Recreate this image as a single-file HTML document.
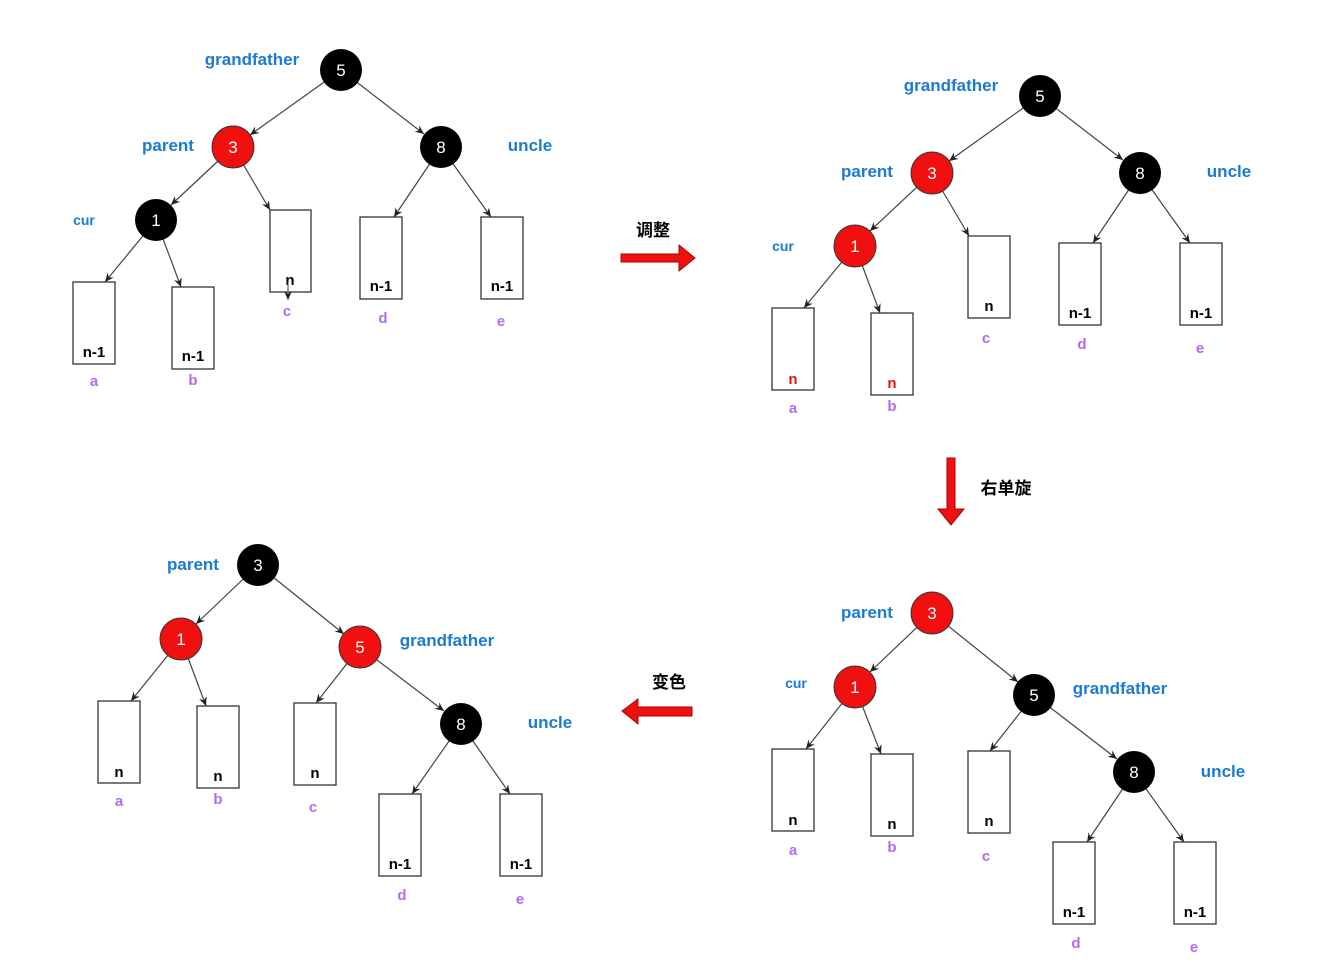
<!DOCTYPE html>
<html><head><meta charset="utf-8"><style>
html,body{margin:0;padding:0;background:#fff;}
svg{display:block;}
.lbl{font-family:"Liberation Sans",sans-serif;font-size:17px;fill:#1a7bd0;font-weight:bold;text-anchor:middle;}
.cur{font-family:"Liberation Sans",sans-serif;font-size:14px;fill:#1a7bd0;font-weight:bold;text-anchor:middle;}
.sub{font-family:"Liberation Sans",sans-serif;font-size:15px;fill:#b06cf0;font-weight:bold;text-anchor:middle;}
.nt{font-family:"Liberation Sans",sans-serif;font-size:17px;fill:#fff;text-anchor:middle;}
.bt{font-family:"Liberation Sans",sans-serif;font-size:15px;fill:#000;font-weight:bold;text-anchor:middle;}
.cn{font-family:"Liberation Sans","Noto Sans CJK SC",sans-serif;font-size:17px;fill:#000;font-weight:bold;text-anchor:middle;}
line{stroke:#444;stroke-width:1.2;marker-end:url(#ah);}
rect{fill:#fff;stroke:#333;stroke-width:1.3;}
</style></head><body>
<svg width="1334" height="964" viewBox="0 0 1334 964" xmlns="http://www.w3.org/2000/svg">
<defs><marker id="ah" markerWidth="10" markerHeight="10" refX="9" refY="5" orient="auto" markerUnits="userSpaceOnUse"><path d="M0,1 L9,5 L0,9 L3,5 z" fill="#222"/></marker></defs>

<!-- Panel 1 -->
<line x1="341" y1="70" x2="250" y2="135"/><line x1="341" y1="70" x2="424" y2="134"/>
<line x1="233" y1="147" x2="171" y2="205"/><line x1="233" y1="147" x2="270" y2="210"/>
<line x1="156" y1="220" x2="105" y2="282"/><line x1="156" y1="220" x2="181" y2="287"/>
<line x1="441" y1="147" x2="394" y2="217"/><line x1="441" y1="147" x2="491" y2="217"/>
<rect x="73" y="282" width="42" height="82"/><rect x="172" y="287" width="42" height="82"/>
<rect x="270" y="210" width="41" height="82"/><rect x="360" y="217" width="42" height="82"/><rect x="481" y="217" width="42" height="82"/>
<text class="bt" x="94" y="357">n-1</text><text class="bt" x="193" y="361">n-1</text><text class="bt" x="290" y="285">n</text>
<line x1="288" y1="282" x2="288" y2="300" style="stroke-width:1"/>
<text class="bt" x="381" y="291">n-1</text><text class="bt" x="502" y="291">n-1</text>
<circle cx="341" cy="70" r="21" fill="#000"/><circle cx="233" cy="147" r="21" fill="#f01010" stroke="#333"/>
<circle cx="441" cy="147" r="21" fill="#000"/><circle cx="156" cy="220" r="21" fill="#000"/>
<text class="nt" x="341" y="76">5</text><text class="nt" x="233" y="153">3</text><text class="nt" x="441" y="153">8</text><text class="nt" x="156" y="226">1</text>
<text class="lbl" x="252" y="65">grandfather</text><text class="lbl" x="168" y="151">parent</text><text class="lbl" x="530" y="151">uncle</text><text class="cur" x="84" y="225">cur</text>
<text class="sub" x="94" y="386">a</text><text class="sub" x="193" y="385">b</text><text class="sub" x="287" y="316">c</text><text class="sub" x="383" y="323">d</text><text class="sub" x="501" y="326">e</text>

<!-- Panel 2 -->
<line x1="1040" y1="96" x2="949" y2="161"/><line x1="1040" y1="96" x2="1123" y2="160"/>
<line x1="932" y1="173" x2="870" y2="231"/><line x1="932" y1="173" x2="969" y2="236"/>
<line x1="855" y1="246" x2="804" y2="308"/><line x1="855" y1="246" x2="880" y2="313"/>
<line x1="1140" y1="173" x2="1093" y2="243"/><line x1="1140" y1="173" x2="1190" y2="243"/>
<rect x="772" y="308" width="42" height="82"/><rect x="871" y="313" width="42" height="82"/>
<rect x="968" y="236" width="42" height="82"/><rect x="1059" y="243" width="42" height="82"/><rect x="1180" y="243" width="42" height="82"/>
<text class="bt" x="793" y="384" style="fill:#f01010">n</text><text class="bt" x="892" y="388" style="fill:#f01010">n</text><text class="bt" x="989" y="311">n</text>
<text class="bt" x="1080" y="318">n-1</text><text class="bt" x="1201" y="318">n-1</text>
<circle cx="1040" cy="96" r="21" fill="#000"/><circle cx="932" cy="173" r="21" fill="#f01010" stroke="#333"/>
<circle cx="1140" cy="173" r="21" fill="#000"/><circle cx="855" cy="246" r="21" fill="#f01010" stroke="#333"/>
<text class="nt" x="1040" y="102">5</text><text class="nt" x="932" y="179">3</text><text class="nt" x="1140" y="179">8</text><text class="nt" x="855" y="252">1</text>
<text class="lbl" x="951" y="91">grandfather</text><text class="lbl" x="867" y="177">parent</text><text class="lbl" x="1229" y="177">uncle</text><text class="cur" x="783" y="251">cur</text>
<text class="sub" x="793" y="413">a</text><text class="sub" x="892" y="411">b</text><text class="sub" x="986" y="343">c</text><text class="sub" x="1082" y="349">d</text><text class="sub" x="1200" y="353">e</text>

<!-- Panel 3 -->
<line x1="932" y1="613" x2="870" y2="672"/><line x1="932" y1="613" x2="1018" y2="682"/>
<line x1="855" y1="687" x2="806" y2="749"/><line x1="855" y1="687" x2="881" y2="754"/>
<line x1="1034" y1="695" x2="990" y2="751"/><line x1="1034" y1="695" x2="1117" y2="759"/>
<line x1="1134" y1="772" x2="1087" y2="842"/><line x1="1134" y1="772" x2="1184" y2="842"/>
<rect x="772" y="749" width="42" height="82"/><rect x="871" y="754" width="42" height="82"/>
<rect x="968" y="751" width="42" height="82"/><rect x="1053" y="842" width="42" height="82"/><rect x="1174" y="842" width="42" height="82"/>
<text class="bt" x="793" y="825">n</text><text class="bt" x="892" y="829">n</text><text class="bt" x="989" y="826">n</text>
<text class="bt" x="1074" y="917">n-1</text><text class="bt" x="1195" y="917">n-1</text>
<circle cx="932" cy="613" r="21" fill="#f01010" stroke="#333"/><circle cx="855" cy="687" r="21" fill="#f01010" stroke="#333"/>
<circle cx="1034" cy="695" r="21" fill="#000"/><circle cx="1134" cy="772" r="21" fill="#000"/>
<text class="nt" x="932" y="619">3</text><text class="nt" x="855" y="693">1</text><text class="nt" x="1034" y="701">5</text><text class="nt" x="1134" y="778">8</text>
<text class="lbl" x="867" y="618">parent</text><text class="cur" x="796" y="688">cur</text><text class="lbl" x="1120" y="694">grandfather</text><text class="lbl" x="1223" y="777">uncle</text>
<text class="sub" x="793" y="855">a</text><text class="sub" x="892" y="852">b</text><text class="sub" x="986" y="861">c</text><text class="sub" x="1076" y="948">d</text><text class="sub" x="1194" y="952">e</text>

<!-- Panel 4 -->
<line x1="258" y1="565" x2="196" y2="624"/><line x1="258" y1="565" x2="344" y2="634"/>
<line x1="181" y1="639" x2="131" y2="701"/><line x1="181" y1="639" x2="206" y2="706"/>
<line x1="360" y1="647" x2="316" y2="703"/><line x1="360" y1="647" x2="444" y2="711"/>
<line x1="461" y1="724" x2="412" y2="794"/><line x1="461" y1="724" x2="510" y2="794"/>
<rect x="98" y="701" width="42" height="82"/><rect x="197" y="706" width="42" height="82"/>
<rect x="294" y="703" width="42" height="82"/><rect x="379" y="794" width="42" height="82"/><rect x="500" y="794" width="42" height="82"/>
<text class="bt" x="119" y="777">n</text><text class="bt" x="218" y="781">n</text><text class="bt" x="315" y="778">n</text>
<text class="bt" x="400" y="869">n-1</text><text class="bt" x="521" y="869">n-1</text>
<circle cx="258" cy="565" r="21" fill="#000"/><circle cx="181" cy="639" r="21" fill="#f01010" stroke="#333"/>
<circle cx="360" cy="647" r="21" fill="#f01010" stroke="#333"/><circle cx="461" cy="724" r="21" fill="#000"/>
<text class="nt" x="258" y="571">3</text><text class="nt" x="181" y="645">1</text><text class="nt" x="360" y="653">5</text><text class="nt" x="461" y="730">8</text>
<text class="lbl" x="193" y="570">parent</text><text class="lbl" x="447" y="646">grandfather</text><text class="lbl" x="550" y="728">uncle</text>
<text class="sub" x="119" y="806">a</text><text class="sub" x="218" y="804">b</text><text class="sub" x="313" y="812">c</text><text class="sub" x="402" y="900">d</text><text class="sub" x="520" y="904">e</text>

<!-- Big arrows -->
<path d="M621,254 L679,254 L679,245 L695,258 L679,271 L679,262 L621,262 Z" fill="#f01010" stroke="#a00" stroke-width="1"/>
<path d="M947,458 L955,458 L955,509 L964,509 L951,525 L938,509 L947,509 Z" fill="#f01010" stroke="#a00" stroke-width="1"/>
<path d="M692,707 L638,707 L638,699 L622,711 L638,724 L638,716 L692,716 Z" fill="#f01010" stroke="#a00" stroke-width="1"/>
<text class="cn" x="653" y="236">调整</text>
<text class="cn" x="1006" y="494">右单旋</text>
<text class="cn" x="669" y="688">变色</text>
</svg>
</body></html>
